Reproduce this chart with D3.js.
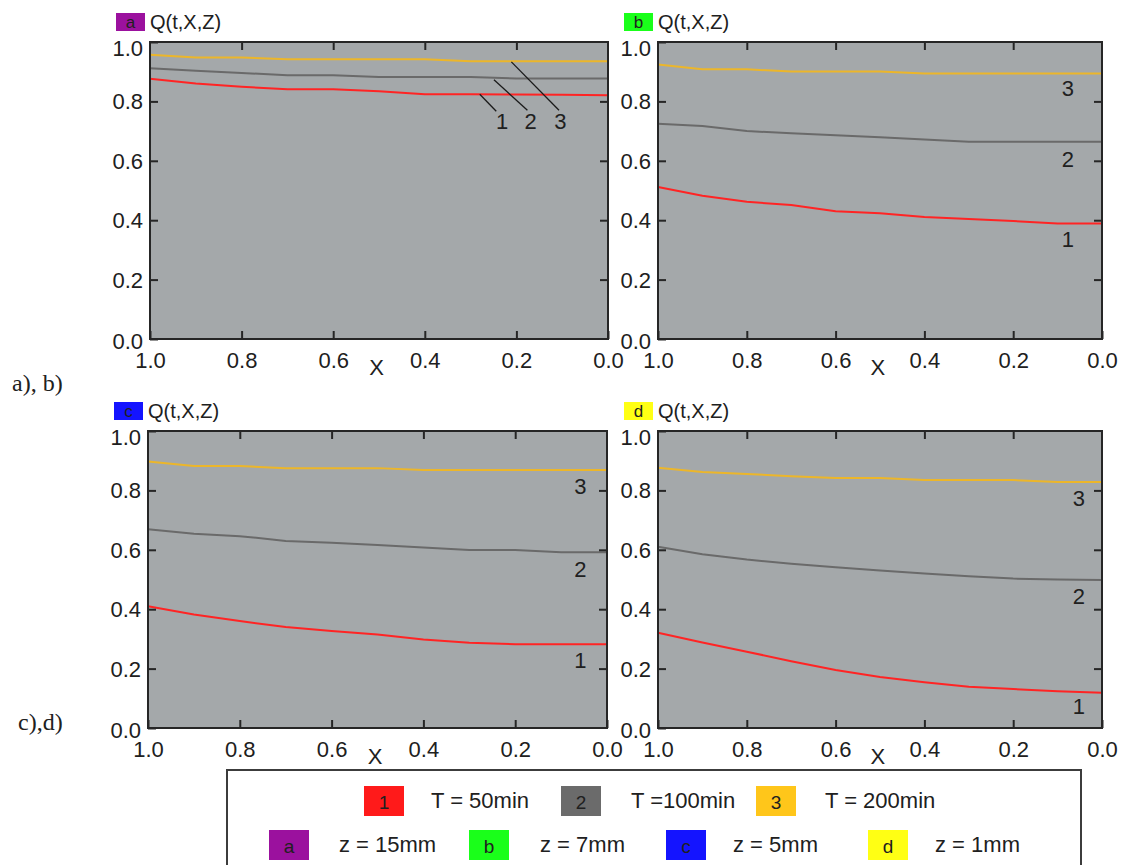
<!DOCTYPE html>
<html>
<head>
<meta charset="utf-8">
<script src="https://cdn.jsdelivr.net/npm/d3@7"></script>
<style>
  html, body { margin: 0; padding: 0; background: #ffffff; }
  svg { display: block; }
  text { font-family: "Liberation Sans", Arial, sans-serif; fill: #202020; }
</style>
</head>
<body>
<svg id="chart" width="1140" height="865"></svg>
<script>
// ---------------- DATA ----------------
const xValues = [1.0, 0.9, 0.8, 0.7, 0.6, 0.5, 0.4, 0.3, 0.2, 0.1, 0.0];

// panel a (z = 15mm)
const seriesA1 = [0.876, 0.860, 0.849, 0.841, 0.841, 0.834, 0.824, 0.824, 0.823, 0.822, 0.821];
const seriesA2 = [0.912, 0.903, 0.896, 0.888, 0.888, 0.882, 0.882, 0.882, 0.877, 0.877, 0.877];
const seriesA3 = [0.957, 0.948, 0.948, 0.942, 0.942, 0.942, 0.942, 0.935, 0.935, 0.935, 0.935];
// panel b (z = 7mm)
const seriesB1 = [0.512, 0.482, 0.462, 0.451, 0.430, 0.423, 0.411, 0.404, 0.397, 0.389, 0.389];
const seriesB2 = [0.725, 0.717, 0.700, 0.693, 0.686, 0.679, 0.672, 0.664, 0.664, 0.664, 0.664];
const seriesB3 = [0.924, 0.908, 0.908, 0.901, 0.901, 0.901, 0.894, 0.894, 0.894, 0.894, 0.894];
// panel c (z = 5mm)
const seriesC1 = [0.410, 0.382, 0.360, 0.340, 0.327, 0.315, 0.298, 0.287, 0.282, 0.282, 0.282];
const seriesC2 = [0.669, 0.654, 0.646, 0.630, 0.624, 0.616, 0.608, 0.599, 0.599, 0.592, 0.592];
const seriesC3 = [0.897, 0.882, 0.882, 0.875, 0.875, 0.875, 0.869, 0.869, 0.869, 0.869, 0.869];
// panel d (z = 1mm)
const seriesD1 = [0.321, 0.288, 0.257, 0.225, 0.195, 0.172, 0.154, 0.139, 0.131, 0.124, 0.119];
const seriesD2 = [0.610, 0.585, 0.567, 0.553, 0.541, 0.530, 0.520, 0.511, 0.503, 0.500, 0.498];
const seriesD3 = [0.876, 0.862, 0.855, 0.848, 0.842, 0.842, 0.835, 0.835, 0.835, 0.828, 0.828];

const xTickValues = [1.0, 0.8, 0.6, 0.4, 0.2, 0.0];
const yTickValues = [0.0, 0.2, 0.4, 0.6, 0.8, 1.0];
const innerTickValues = [0.2, 0.4, 0.6, 0.8];

const panelKeys = ["a", "b", "c", "d"];
const panelTitle = "Q(t,X,Z)";
const xAxisTitle = "X";
const curveKeys = ["1", "2", "3"];

// curve number labels [x, y] in data units
const labelsA = [[0.231, 0.734], [0.169, 0.734], [0.104, 0.734]];
const leadersA = [[[0.280, 0.824], [0.244, 0.767]], [[0.249, 0.873], [0.176, 0.770]], [[0.211, 0.933], [0.107, 0.770]]];
const labelsB = [[0.077, 0.335], [0.077, 0.607], [0.077, 0.846]];
const labelsC = [[0.058, 0.228], [0.058, 0.534], [0.058, 0.815]];
const labelsD = [[0.052, 0.073], [0.052, 0.444], [0.052, 0.773]];

const legendTimeKeys = ["1", "2", "3"];
const legendTimeLabels = ["T = 50min", "T =100min", "T = 200min"];
const legendDepthKeys = ["a", "b", "c", "d"];
const legendDepthLabels = ["z = 15mm", "z = 7mm", "z = 5mm", "z = 1mm"];
const rowLabels = ["a), b)", "c),d)"];

// ---------------- STYLE / LAYOUT ----------------
const lineColors = ["#ff2424", "#6a6a6a", "#ecb62a"];
const timeBoxColors = ["#ff1a1a", "#6b6b6b", "#ffc61a"];
const depthColors = ["#9b119e", "#1aff1a", "#1414ff", "#ffff14"];
const plotFill = "#a4a8aa";
const frameColor = "#262626";

const panels = [
  { key: "a", x0: 150, x1: 608, y0: 42, y1: 339, series: [seriesA1, seriesA2, seriesA3], labels: labelsA, leaders: leadersA },
  { key: "b", x0: 658, x1: 1102, y0: 42, y1: 339, series: [seriesB1, seriesB2, seriesB3], labels: labelsB, leaders: [] },
  { key: "c", x0: 148, x1: 607, y0: 431, y1: 728, series: [seriesC1, seriesC2, seriesC3], labels: labelsC, leaders: [] },
  { key: "d", x0: 658, x1: 1102, y0: 431, y1: 728, series: [seriesD1, seriesD2, seriesD3], labels: labelsD, leaders: [] }
];

const svg = d3.select("#chart");
const FS = 22;

panels.forEach((p, pi) => {
  const x = d3.scaleLinear().domain([1, 0]).range([p.x0, p.x1]);
  const y = d3.scaleLinear().domain([0, 1]).range([p.y1, p.y0]);
  const g = svg.append("g");

  // plot area
  g.append("rect")
    .attr("x", p.x0).attr("y", p.y0)
    .attr("width", p.x1 - p.x0).attr("height", p.y1 - p.y0)
    .attr("fill", plotFill);

  // curves
  const line = d3.line().x((d, i) => x(xValues[i])).y(d => y(d));
  p.series.forEach((s, si) => {
    g.append("path")
      .datum(s)
      .attr("d", line)
      .attr("fill", "none")
      .attr("stroke", lineColors[si])
      .attr("stroke-width", 2);
  });

  // bottom axis with labels
  const bx = g.append("g")
    .attr("transform", `translate(0,${p.y1})`)
    .call(d3.axisBottom(x).tickValues(xTickValues).tickSizeInner(-8).tickSizeOuter(0)
      .tickPadding(13).tickFormat(d3.format(".1f")));
  bx.select(".domain").remove();
  bx.selectAll("line").attr("stroke", frameColor).attr("stroke-width", 2);
  bx.selectAll("text").attr("font-size", FS).attr("fill", "#202020")
    .style("font-family", "'Liberation Sans', Arial, sans-serif");
  bx.attr("font-size", FS);

  // left axis with labels
  const ly = g.append("g")
    .attr("transform", `translate(${p.x0},0)`)
    .call(d3.axisLeft(y).tickValues(yTickValues).tickSizeInner(-8).tickSizeOuter(0)
      .tickPadding(7).tickFormat(d3.format(".1f")));
  ly.select(".domain").remove();
  ly.selectAll("line").attr("stroke", frameColor).attr("stroke-width", 2);
  ly.selectAll("text").attr("font-size", FS).attr("fill", "#202020")
    .style("font-family", "'Liberation Sans', Arial, sans-serif")
    .attr("dy", d => d === 1 ? "0.6em" : (d === 0 ? "0.45em" : "0.34em"));
  ly.attr("font-size", FS);

  // top and right inner ticks
  const tx = g.append("g")
    .attr("transform", `translate(0,${p.y0})`)
    .call(d3.axisTop(x).tickValues(innerTickValues).tickSizeInner(-8).tickSizeOuter(0).tickFormat(""));
  tx.select(".domain").remove();
  tx.selectAll("line").attr("stroke", frameColor).attr("stroke-width", 2);
  const ry = g.append("g")
    .attr("transform", `translate(${p.x1},0)`)
    .call(d3.axisRight(y).tickValues(innerTickValues).tickSizeInner(-8).tickSizeOuter(0).tickFormat(""));
  ry.select(".domain").remove();
  ry.selectAll("line").attr("stroke", frameColor).attr("stroke-width", 2);

  // frame
  g.append("rect")
    .attr("x", p.x0).attr("y", p.y0)
    .attr("width", p.x1 - p.x0).attr("height", p.y1 - p.y0)
    .attr("fill", "none").attr("stroke", frameColor).attr("stroke-width", 2);

  // X axis title
  g.append("text")
    .attr("x", x(0.505)).attr("y", p.y1 + 36)
    .attr("text-anchor", "middle").attr("font-size", FS)
    .text(xAxisTitle);

  // header
  g.append("rect")
    .attr("x", p.x0 - 34).attr("y", p.y0 - 29)
    .attr("width", 29).attr("height", 18)
    .attr("fill", depthColors[pi]);
  g.append("text")
    .attr("x", p.x0 - 19.5).attr("y", p.y0 - 14)
    .attr("text-anchor", "middle").attr("font-size", 17)
    .text(panelKeys[pi]);
  g.append("text")
    .attr("x", p.x0).attr("y", p.y0 - 13)
    .attr("font-size", 20)
    .text(panelTitle);

  // leader lines
  p.leaders.forEach(l => {
    g.append("line")
      .attr("x1", x(l[0][0])).attr("y1", y(l[0][1]))
      .attr("x2", x(l[1][0])).attr("y2", y(l[1][1]))
      .attr("stroke", "#1a1a1a").attr("stroke-width", 1.3);
  });

  // curve labels
  p.labels.forEach((l, li) => {
    g.append("text")
      .attr("x", x(l[0])).attr("y", y(l[1]))
      .attr("dy", "0.36em")
      .attr("text-anchor", "middle").attr("font-size", FS)
      .text(curveKeys[li]);
  });
});

// row labels (serif)
const rowLabelPos = [[12, 391], [18, 730]];
rowLabels.forEach((t, i) => {
  svg.append("text")
    .attr("x", rowLabelPos[i][0]).attr("y", rowLabelPos[i][1])
    .attr("font-size", 24)
    .style("font-family", "'Liberation Serif', 'Times New Roman', serif")
    .attr("fill", "#000")
    .text(t);
});

// ---------------- LEGEND ----------------
const legend = svg.append("g");
legend.append("rect")
  .attr("x", 227).attr("y", 770)
  .attr("width", 854).attr("height", 130)
  .attr("fill", "#ffffff").attr("stroke", "#3c3c3c").attr("stroke-width", 2);

const row1 = { boxX: [364, 561, 756], textX: [431, 631, 825], boxY: 786, baseline: 808 };
const row2 = { boxX: [269, 469, 666, 868], textX: [339, 540, 733, 935], boxY: 830, baseline: 852 };

function legendRow(row, keys, labels, colors) {
  keys.forEach((k, i) => {
    legend.append("rect")
      .attr("x", row.boxX[i]).attr("y", row.boxY)
      .attr("width", 40).attr("height", 30)
      .attr("fill", colors[i]);
    legend.append("text")
      .attr("x", row.boxX[i] + 20).attr("y", row.boxY + 23)
      .attr("text-anchor", "middle").attr("font-size", 19)
      .text(k);
    legend.append("text")
      .attr("x", row.textX[i]).attr("y", row.baseline)
      .attr("font-size", 22)
      .text(labels[i]);
  });
}
legendRow(row1, legendTimeKeys, legendTimeLabels, timeBoxColors);
legendRow(row2, legendDepthKeys, legendDepthLabels, depthColors);
</script>
</body>
</html>
